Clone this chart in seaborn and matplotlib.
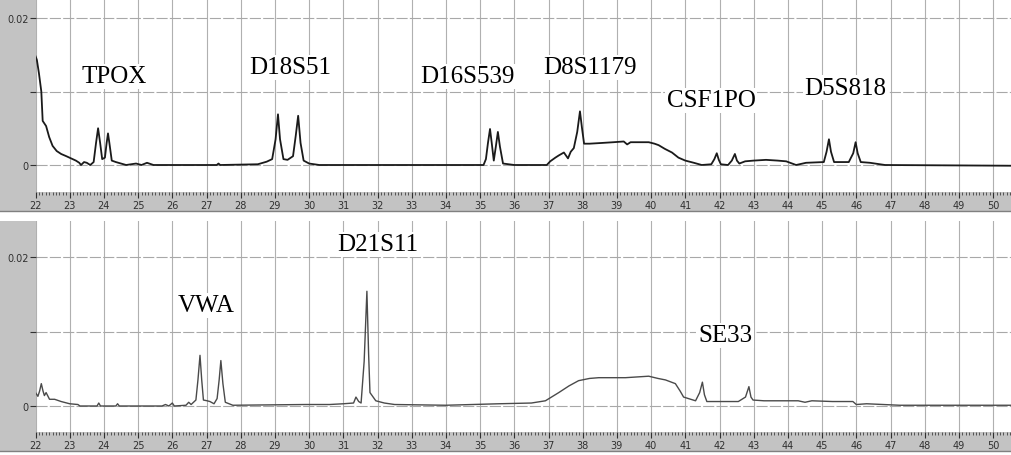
import numpy as np
import pandas as pd
import seaborn as sns
import matplotlib.pyplot as plt
from matplotlib.patches import Rectangle
from matplotlib.ticker import MultipleLocator

# top trace
top_x = [22.0, 22.04, 22.10, 22.17, 22.21, 22.31, 22.40, 22.50, 22.62, 22.75, 22.90, 23.04, 23.18, 23.28,
         23.33, 23.42, 23.50, 23.60, 23.70, 23.77, 23.83, 23.89, 23.95, 24.03, 24.08, 24.12, 24.16, 24.23,
         24.35, 24.50, 24.65, 24.94, 25.10, 25.26, 25.45, 27.30, 27.35, 27.40, 28.50, 28.76, 28.92, 29.02,
         29.09, 29.15, 29.25, 29.37, 29.53, 29.61, 29.68, 29.75, 29.84, 30.00, 30.30, 35.10, 35.17, 35.23,
         35.29, 35.34, 35.40, 35.46, 35.52, 35.58, 35.67, 36.00, 36.95, 37.05, 37.20, 37.30, 37.45, 37.57,
         37.65, 37.74, 37.84, 37.92, 37.98, 38.04, 38.20, 38.56, 38.90, 39.20, 39.30, 39.40, 39.70, 39.93,
         40.10, 40.22, 40.40, 40.61, 40.80, 41.00, 41.25, 41.48, 41.76, 41.85, 41.92, 41.98, 42.04, 42.25,
         42.36, 42.45, 42.51, 42.58, 42.75, 43.00, 43.36, 43.70, 43.95, 44.24, 44.53, 45.05, 45.13, 45.20,
         45.26, 45.35, 45.78, 45.91, 45.98, 46.04, 46.13, 46.40, 46.84, 50.55]
top_y = [0.0148, 0.0143, 0.0125, 0.0100, 0.0060, 0.0053, 0.0038, 0.0026, 0.0019, 0.0015, 0.0012, 0.0009,
         0.0006, 0.0003, 0.0000, 0.0004, 0.0003, 0.0000, 0.0004, 0.0030, 0.0050, 0.0030, 0.0008, 0.0010,
         0.0030, 0.0043, 0.0030, 0.0006, 0.0004, 0.0002, 0.0000, 0.0002, 0.0000, 0.0003, 0.0000, 0.0000,
         0.0002, 0.0000, 0.0001, 0.00045, 0.0008, 0.0035, 0.0069, 0.0035, 0.0008, 0.0007, 0.0012, 0.0040,
         0.0067, 0.0030, 0.0006, 0.0002, 0.0000, 0.0000, 0.0008, 0.0030, 0.0049, 0.0030, 0.0006, 0.0025,
         0.0045, 0.0025, 0.0002, 0.0000, 0.0000, 0.0005, 0.0010, 0.0013, 0.0017, 0.0009, 0.0018, 0.0023,
         0.0045, 0.0073, 0.0050, 0.0029, 0.0029, 0.0030, 0.0031, 0.0032, 0.0028, 0.0031, 0.0031, 0.0031,
         0.0029, 0.0027, 0.0022, 0.0017, 0.0010, 0.0006, 0.0003, 0.0000, 0.0001, 0.0008, 0.0016, 0.0007,
         0.0001, 0.0000, 0.0006, 0.0015, 0.0006, 0.0002, 0.0005, 0.0006, 0.0007, 0.0006, 0.0005, 0.0000,
         0.0003, 0.0004, 0.0018, 0.0035, 0.0018, 0.0004, 0.0004, 0.0016, 0.0031, 0.0016, 0.0004, 0.0003,
         0.0000, -0.0001]

# bottom trace
bottom_x = [22.0, 22.07, 22.12, 22.17, 22.22, 22.26, 22.31, 22.41, 22.56, 22.75, 23.00, 23.24, 23.30,
            23.80, 23.85, 23.90, 24.35, 24.40, 24.45, 25.70, 25.80, 25.90, 26.00, 26.06, 26.40, 26.48,
            26.55, 26.69, 26.75, 26.81, 26.86, 26.91, 27.02, 27.10, 27.22, 27.31, 27.37, 27.42, 27.48,
            27.55, 27.77, 29.90, 30.60, 31.00, 31.30, 31.37, 31.45, 31.52, 31.61, 31.69, 31.74, 31.78,
            31.95, 32.20, 32.50, 34.00, 35.55, 36.50, 36.91, 37.30, 37.60, 37.88, 38.20, 38.47, 39.25,
            39.93, 40.20, 40.42, 40.71, 40.85, 40.95, 41.30, 41.42, 41.50, 41.56, 41.63, 41.97, 42.55,
            42.76, 42.86, 42.92, 42.98, 43.30, 44.30, 44.50, 44.70, 45.30, 45.90, 46.00, 46.30, 47.27, 50.55]
bottom_y = [0.0018, 0.0013, 0.0020, 0.0030, 0.0020, 0.0014, 0.0018, 0.0009, 0.0009, 0.0006, 0.0003,
            0.0002, 0.0000, 0.0000, 0.0004, 0.0000, 0.0000, 0.0003, 0.0000, 0.0000, 0.0002, 0.0000,
            0.0004, 0.0000, 0.0001, 0.0005, 0.0002, 0.0008, 0.0035, 0.0068, 0.0035, 0.0008, 0.0007,
            0.0006, 0.0003, 0.0010, 0.0035, 0.0061, 0.0030, 0.0005, 0.0001, 0.0002, 0.0002, 0.0003,
            0.0004, 0.0012, 0.0006, 0.0004, 0.0060, 0.0154, 0.0070, 0.0018, 0.0007, 0.0004, 0.0002,
            0.0001, 0.0003, 0.0004, 0.0007, 0.0018, 0.0027, 0.0034, 0.0037, 0.0038, 0.0038, 0.0040,
            0.0037, 0.0035, 0.0030, 0.0020, 0.0012, 0.0007, 0.0018, 0.0032, 0.0015, 0.0006, 0.0006,
            0.0006, 0.0012, 0.0026, 0.0012, 0.0008, 0.0007, 0.0007, 0.0005, 0.0007, 0.0006, 0.0006,
            0.0002, 0.0003, 0.0001, 0.0001]

top_labels = ['TPOX', 'D18S51', 'D16S539', 'D8S1179', 'CSF1PO', 'D5S818']
top_label_x = [24.3, 29.44, 34.62, 38.21, 41.75, 45.67]
top_label_y = [0.0121, 0.0133, 0.0121, 0.0133, 0.0088, 0.0105]

bottom_labels = ['VWA', 'D21S11', 'SE33']
bottom_label_x = [27.0, 32.01, 42.16]
bottom_label_y = [0.0135, 0.0217, 0.0095]

xticks = list(range(22, 51))
yticks = [0, 0.01, 0.02]
yticklabels = ['0', '', '0.02']

W, H = 1011, 456
fig = plt.figure(figsize=(W / 100, H / 100), dpi=100)
fig.patch.set_facecolor('white')

grey = '#c3c3c3'
# grey frames behind both panels
for y0, y1 in [(0, 212), (222, 452)]:
    fig.patches.append(Rectangle((0, 1 - y1 / H), 1, (y1 - y0) / H, transform=fig.transFigure,
                                 facecolor=grey, edgecolor='none', zorder=-10))
    fig.add_artist(plt.Line2D([0, 1], [1 - y1 / H, 1 - y1 / H], transform=fig.transFigure,
                              color='#808080', lw=1, zorder=-5))

left = 35.5 / W
scale = 34.2
xmax = 22 + (W - 35.5) / scale

panels = [
    # top px, bottom px, px of zero, px per 0.02
    (0, 193, 166, 147, top_x, top_y, top_labels, top_label_x, top_label_y, '#1a1a1a', 1.3),
    (222, 433, 407, 149, bottom_x, bottom_y, bottom_labels, bottom_label_x, bottom_label_y, '#4a4a4a', 1.0),
]

for (p0, p1, pz, p02, xs, ys, labs, lx, ly, col, lw) in panels:
    ax = fig.add_axes([left, 1 - p1 / H, 1 - left, (p1 - p0) / H])
    ax.set_facecolor('white')
    df = pd.DataFrame({'x': xs, 'y': ys})
    sns.lineplot(data=df, x='x', y='y', ax=ax, color=col, linewidth=lw, zorder=3)
    ax.set_xlim(22, xmax)
    ax.set_ylim(-(p1 - pz) / p02 * 0.02, (pz - p0) / p02 * 0.02)
    ax.set_xticks(xticks)
    ax.set_xticklabels([str(t) for t in xticks])
    ax.xaxis.set_minor_locator(MultipleLocator(0.1))
    ax.set_yticks(yticks)
    ax.set_yticklabels(yticklabels)
    ax.tick_params(axis='x', which='major', direction='out', length=4, width=0.8,
                   labelsize=7, pad=2, colors='#303030')
    ax.tick_params(axis='x', which='minor', direction='out', length=2, width=0.6, colors='#404040')
    ax.tick_params(axis='y', direction='out', length=4, width=0.8, labelsize=7, pad=1, colors='#303030')
    for s in ax.spines.values():
        s.set_visible(False)
    ax.set_xlabel('')
    ax.set_ylabel('')
    for t in xticks:
        ax.axvline(t, color='#b0b0b0', lw=0.8, zorder=1)
    for v in yticks:
        ax.axhline(v, color='#a8a8a8', lw=0.8, ls=(0, (10, 2)), zorder=1)
    for name, x, y in zip(labs, lx, ly):
        ax.text(x, y, name, family='Liberation Serif', fontsize=18, ha='center', va='center',
                zorder=2, bbox=dict(facecolor='white', edgecolor='none', pad=1))

fig.savefig('out.png', dpi=100, facecolor='white')
